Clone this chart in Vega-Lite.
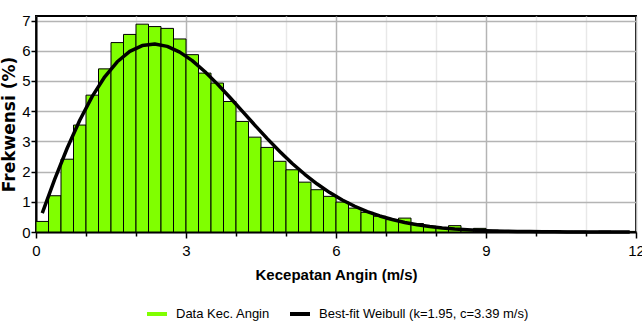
{
  "$schema": "https://vega.github.io/schema/vega-lite/v6.json",
  "width": 600,
  "height": 216,
  "autosize": {"type": "none"},
  "padding": {"left": 36, "top": 16, "right": 6, "bottom": 93},
  "background": "white",
  "config": {
    "font": "Liberation Sans",
    "view": {"stroke": "black", "strokeWidth": 2},
    "axis": {"domainColor": "black", "domainWidth": 2, "tickColor": "black", "tickWidth": 1.5, "labelColor": "black", "titleColor": "black", "labelFontSize": 15, "labelFont": "Liberation Sans", "labelOverlap": false}
  },
  "datasets": {
    "bars": [
      {"x0": 0.0, "x1": 0.25, "freq": 0.35},
      {"x0": 0.25, "x1": 0.5, "freq": 1.20},
      {"x0": 0.5, "x1": 0.75, "freq": 2.41},
      {"x0": 0.75, "x1": 1.0, "freq": 3.54},
      {"x0": 1.0, "x1": 1.25, "freq": 4.53},
      {"x0": 1.25, "x1": 1.5, "freq": 5.40},
      {"x0": 1.5, "x1": 1.75, "freq": 6.27},
      {"x0": 1.75, "x1": 2.0, "freq": 6.54},
      {"x0": 2.0, "x1": 2.25, "freq": 6.88},
      {"x0": 2.25, "x1": 2.5, "freq": 6.80},
      {"x0": 2.5, "x1": 2.75, "freq": 6.74},
      {"x0": 2.75, "x1": 3.0, "freq": 6.39},
      {"x0": 3.0, "x1": 3.25, "freq": 5.87},
      {"x0": 3.25, "x1": 3.5, "freq": 5.26},
      {"x0": 3.5, "x1": 3.75, "freq": 4.93},
      {"x0": 3.75, "x1": 4.0, "freq": 4.32},
      {"x0": 4.0, "x1": 4.25, "freq": 3.66},
      {"x0": 4.25, "x1": 4.5, "freq": 3.14},
      {"x0": 4.5, "x1": 4.75, "freq": 2.80},
      {"x0": 4.75, "x1": 5.0, "freq": 2.34},
      {"x0": 5.0, "x1": 5.25, "freq": 2.06},
      {"x0": 5.25, "x1": 5.5, "freq": 1.65},
      {"x0": 5.5, "x1": 5.75, "freq": 1.40},
      {"x0": 5.75, "x1": 6.0, "freq": 1.18},
      {"x0": 6.0, "x1": 6.25, "freq": 0.99},
      {"x0": 6.25, "x1": 6.5, "freq": 0.79},
      {"x0": 6.5, "x1": 6.75, "freq": 0.65},
      {"x0": 6.75, "x1": 7.0, "freq": 0.52},
      {"x0": 7.0, "x1": 7.25, "freq": 0.41},
      {"x0": 7.25, "x1": 7.5, "freq": 0.46},
      {"x0": 7.5, "x1": 7.75, "freq": 0.28},
      {"x0": 7.75, "x1": 8.0, "freq": 0.19},
      {"x0": 8.0, "x1": 8.25, "freq": 0.13},
      {"x0": 8.25, "x1": 8.5, "freq": 0.21},
      {"x0": 8.5, "x1": 8.75, "freq": 0.08},
      {"x0": 8.75, "x1": 9.0, "freq": 0.12},
      {"x0": 9.0, "x1": 9.25, "freq": 0.06},
      {"x0": 9.25, "x1": 9.5, "freq": 0.05},
      {"x0": 9.5, "x1": 9.75, "freq": 0.03},
      {"x0": 9.75, "x1": 10.0, "freq": 0.04},
      {"x0": 10.0, "x1": 10.25, "freq": 0.05},
      {"x0": 10.25, "x1": 10.5, "freq": 0.04},
      {"x0": 10.5, "x1": 10.75, "freq": 0.03},
      {"x0": 10.75, "x1": 11.0, "freq": 0.03},
      {"x0": 11.0, "x1": 11.25, "freq": 0.02},
      {"x0": 11.25, "x1": 11.5, "freq": 0.03},
      {"x0": 11.5, "x1": 11.75, "freq": 0.02},
      {"x0": 11.75, "x1": 12.0, "freq": 0.02}
    ],
    "curve": [
      {"x0": 0.125, "freq": 0.624},
      {"x0": 0.375, "freq": 1.752},
      {"x0": 0.625, "freq": 2.780},
      {"x0": 0.875, "freq": 3.699},
      {"x0": 1.125, "freq": 4.489},
      {"x0": 1.375, "freq": 5.137},
      {"x0": 1.625, "freq": 5.635},
      {"x0": 1.875, "freq": 5.979},
      {"x0": 2.125, "freq": 6.172},
      {"x0": 2.375, "freq": 6.223},
      {"x0": 2.625, "freq": 6.144},
      {"x0": 2.875, "freq": 5.954},
      {"x0": 3.125, "freq": 5.671},
      {"x0": 3.375, "freq": 5.314},
      {"x0": 3.625, "freq": 4.903},
      {"x0": 3.875, "freq": 4.460},
      {"x0": 4.125, "freq": 3.999},
      {"x0": 4.375, "freq": 3.539},
      {"x0": 4.625, "freq": 3.091},
      {"x0": 4.875, "freq": 2.664},
      {"x0": 5.125, "freq": 2.269},
      {"x0": 5.375, "freq": 1.910},
      {"x0": 5.625, "freq": 1.588},
      {"x0": 5.875, "freq": 1.305},
      {"x0": 6.125, "freq": 1.060},
      {"x0": 6.375, "freq": 0.852},
      {"x0": 6.625, "freq": 0.677},
      {"x0": 6.875, "freq": 0.531},
      {"x0": 7.125, "freq": 0.413},
      {"x0": 7.375, "freq": 0.317},
      {"x0": 7.625, "freq": 0.241},
      {"x0": 7.875, "freq": 0.181},
      {"x0": 8.125, "freq": 0.135},
      {"x0": 8.375, "freq": 0.099},
      {"x0": 8.625, "freq": 0.073},
      {"x0": 8.875, "freq": 0.052},
      {"x0": 9.125, "freq": 0.037},
      {"x0": 9.375, "freq": 0.026},
      {"x0": 9.625, "freq": 0.018},
      {"x0": 9.875, "freq": 0.013},
      {"x0": 10.125, "freq": 0.009},
      {"x0": 10.375, "freq": 0.006},
      {"x0": 10.625, "freq": 0.004},
      {"x0": 10.875, "freq": 0.003},
      {"x0": 11.125, "freq": 0.002},
      {"x0": 11.375, "freq": 0.001},
      {"x0": 11.625, "freq": 0.001},
      {"x0": 11.875, "freq": 0.0005}
    ]
  },
  "encoding": {
    "x": {
      "field": "x0", "type": "quantitative",
      "scale": {"domain": [0, 12], "nice": false},
      "axis": {
        "values": [0, 1, 2, 3, 4, 5, 6, 7, 8, 9, 10, 11, 12],
        "format": "d",
        "labelExpr": "datum.value % 3 === 0 ? datum.label : ''",
        "labelFlush": false,
        "labelOverlap": false,
        "labelPadding": 5,
        "tickSize": {"condition": {"test": "datum.value % 3 === 0", "value": 6}, "value": 4},
        "grid": true,
        "gridColor": {"condition": {"test": "datum.value % 3 === 0", "value": "#b4b4b4"}, "value": "#e8e8e8"},
        "gridWidth": 1.5,
        "title": "Kecepatan Angin (m/s)",
        "titleFont": "Liberation Sans",
        "titleFontSize": 15,
        "titleFontWeight": "bold",
        "titlePadding": 9
      }
    },
    "y": {
      "field": "freq", "type": "quantitative",
      "scale": {"domain": [0, 7.15], "nice": false},
      "axis": {
        "values": [0, 0.5, 1, 1.5, 2, 2.5, 3, 3.5, 4, 4.5, 5, 5.5, 6, 6.5, 7],
        "format": "d",
        "labelExpr": "datum.value % 1 === 0 ? datum.label : ''",
        "labelOverlap": false,
        "tickSize": {"condition": {"test": "datum.value % 1 === 0", "value": 5}, "value": 3},
        "labelPadding": 1,
        "grid": true,
        "gridColor": {"condition": {"test": "datum.value % 1 === 0", "value": "#b4b4b4"}, "value": "#e8e8e8"},
        "gridWidth": 1.5,
        "title": "Frekwensi (%)",
        "titleFont": "DejaVu Sans",
        "titleFontSize": 17,
        "titleFontWeight": "bold",
        "titlePadding": 3
      }
    }
  },
  "layer": [
    {
      "data": {"name": "bars"},
      "mark": {"type": "rect", "stroke": "black", "strokeWidth": 1, "opacity": 1},
      "encoding": {
        "x2": {"field": "x1"},
        "y2": {"datum": 0},
        "color": {
          "datum": "Data Kec. Angin",
          "type": "nominal",
          "scale": {"domain": ["Data Kec. Angin", "Best-fit Weibull (k=1.95, c=3.39 m/s)"], "range": ["#80ff00", "black"]},
          "legend": {
            "title": null,
            "orient": "none",
            "direction": "horizontal",
            "legendX": 109,
            "legendY": 286,
            "symbolType": "stroke",
            "symbolSize": 400,
            "symbolStrokeWidth": 4,
            "labelFont": "Liberation Sans",
            "labelFontSize": 13,
            "labelColor": "black",
            "labelLimit": 400,
            "labelOffset": 7,
            "columnPadding": 12
          }
        }
      }
    },
    {
      "data": {"name": "curve"},
      "mark": {"type": "line", "strokeWidth": 3.5, "strokeJoin": "round"},
      "encoding": {
        "color": {"datum": "Best-fit Weibull (k=1.95, c=3.39 m/s)", "type": "nominal"}
      }
    }
  ]
}
